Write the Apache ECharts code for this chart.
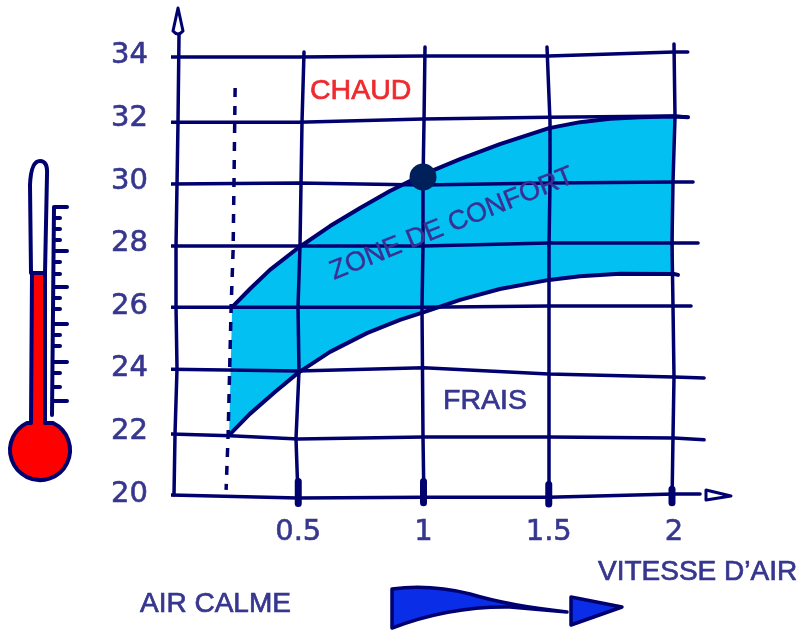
<!DOCTYPE html>
<html><head><meta charset="utf-8">
<style>html,body{margin:0;padding:0;background:#fff}#c{width:801px;height:631px}</style>
<script src="https://cdn.jsdelivr.net/npm/echarts@6/dist/echarts.min.js"></script>
</head><body><div id="c"></div>
<script>
// tick labels
const xTickValues = [0.5, 1, 1.5, 2];
const yTickValues = [20, 22, 24, 26, 28, 30, 32, 34];

// comfort zone boundaries [air speed, temperature]
const comfortUpper = [[0.236,25.97],[0.307,26.55],[0.387,27.16],[0.499,27.86],[0.627,28.56],[0.747,29.14],[0.866,29.68],[1.002,30.22],[1.146,30.7],[1.305,31.18],[1.501,31.69],[1.625,31.88],[1.745,31.99],[1.864,32.04],[2,32.06],[2.056,32.04]];
const comfortLower = [[0.224,21.88],[0.307,22.56],[0.407,23.26],[0.499,23.87],[0.627,24.54],[0.774,25.14],[0.906,25.56],[1.002,25.81],[1.146,26.2],[1.305,26.55],[1.501,26.84],[1.625,26.96],[1.784,27.04],[2,27.03],[2.016,27.0]];
const calmAirLimit = [[0.248,32.97],[0.244,30.3],[0.24,27.8],[0.232,25.97],[0.22,21.88],[0.212,20.13]];
const markedPoint = [[0.998,30.13]];

// hand-drawn grid lines, [air speed, temperature]
const row34 = [[-0.02,33.96],[0.5,33.96],[1,33.99],[1.5,33.99],[2,34.12],[2.055,34.12]];
const row32 = [[-0.02,31.88],[0.5,31.88],[1,31.98],[1.5,32.04],[2,32.08],[2.055,32.04]];
const row30 = [[-0.012,29.9],[0.5,29.94],[1,29.87],[1.5,29.94],[2,29.97],[2.076,29.97]];
const row28 = [[-0.024,27.92],[0.5,27.92],[1,27.92],[1.5,28.02],[2,28.02],[2.096,28.02]];
const row26 = [[-0.02,25.97],[0.5,25.97],[1,25.97],[1.5,26.01],[2,26.01],[2.068,26.01]];
const row24 = [[-0.02,23.99],[0.5,23.93],[1,24.03],[1.5,23.83],[2,23.74],[2.12,23.71]];
const row22 = [[-0.032,21.92],[0.228,21.86],[0.5,21.76],[1,21.82],[1.5,21.82],[2,21.79],[2.12,21.73]];
const row20 = [[-0.024,19.97],[0.5,19.87],[1,19.9],[1.5,19.9],[2,20],[2.104,20]];
const col00 = [[0.024,34.66],[0.02,31.9],[0.012,27.9],[0.012,26],[0.016,24],[0.008,21.9],[0.004,19.97]];
const col05 = [[0.523,34.12],[0.515,31.88],[0.507,27.92],[0.499,25.97],[0.503,23.93],[0.491,21.76],[0.5,19.7]];
const col10 = [[1.006,34.28],[1.002,31.9],[0.998,29.94],[0.998,27.92],[0.994,25.97],[0.998,21.82],[1.002,19.7]];
const col15 = [[1.493,34.28],[1.505,31.9],[1.505,29.94],[1.501,27.92],[1.501,25.97],[1.501,23.83],[1.501,21.82],[1.501,19.7]];
const col20 = [[2,34.38],[2.004,32.04],[1.996,29.97],[1.992,28.02],[1.996,26],[2,23.74],[1.996,21.82],[1.992,19.7]];
const tickBlobs = [[0.5,20.4,19.7],[1,20.4,19.72],[1.5,20.3,19.68],[1.992,20.15,19.72]];

// texts
const labelHot = 'CHAUD', labelCool = 'FRAIS', labelZone = 'ZONE DE CONFORT';
const labelSpeed = 'VITESSE D\u2019AIR', labelCalm = 'AIR CALME';

const INK = '#00006e', TXT = '#36368f', FONT = '"Liberation Sans"';
const rows = [row34,row32,row30,row28,row26,row24,row22,row20];
const cols = [col00,col05,col10,col15,col20];
const gridLine = (d, w) => ({type:'line', data:d, symbol:'none', silent:true, clip:false, smooth:false, z:3,
  lineStyle:{color:INK, width:w, cap:'round', join:'round'}});

const thermoMajor = [207,251,287,324,362,401];
const thermoMinor = [218,229,240,262,274,298,309,335,346,373,387];
const thermoTicks = 'M54 207 L52 415 ' + thermoMajor.map(y=>`M54 ${y} L67 ${y}`).join(' ') + ' ' + thermoMinor.map(y=>`M54 ${y} L60 ${y}`).join(' ');

const text = (t,x,y,size,fill) => ({type:'text', z:20, silent:true,
  style:{text:t, x, y, fill, stroke:fill, lineWidth:0.7, font:`${size}px ${FONT}`, textAlign:'left', textVerticalAlign:'middle'}});
const path = (d, fill, w) => ({type:'path', shape:{pathData:d},
  style:{fill, stroke:INK, lineWidth:w, lineCap:'round', lineJoin:'round'}});

const decorations = [
    path('M178 8 L183 31 Q178 37 173 31 Z','#fff',3),
    path('M706 490 L731 496 L706 500 Z','#fff',3),
    path('M392 589 Q430 584 470 594 Q510 606 567 612 L510 607 Q450 606 392 628 Z','#0a2ee8',3.5),
    path('M571 597 L622 607 L571 625 Z','#0a2ee8',3.5),
    path('M31 273 L30 185 Q31 161 40 161 Q48 161 47 175 L45 273 Z','#fff',4),
    path('M45 273 L45 423 L53 423 A30 30 0 1 1 27 423 L31 423 L32 273 Z','#ff0000',4),
    path(thermoTicks,'none',4)
];

const axisText = {color:TXT, fontSize:29, fontFamily:'"DejaVu Sans"', textBorderColor:TXT, textBorderWidth:0.6, formatter:v=>String(v)};

const chart = echarts.init(document.getElementById('c'), null, {renderer:'canvas'});
chart.setOption({
  animation:false,
  backgroundColor:'#fff',
  grid:{left:173, width:551.1, top:8.85, height:485.15, containLabel:false},
  xAxis:{type:'value', min:0, max:2.2, interval:0.5, splitLine:{show:false}, axisLine:{show:false}, axisTick:{show:false},
    axisLabel:Object.assign({customValues:xTickValues, margin:24}, axisText)},
  yAxis:{type:'value', min:20, max:35.5, interval:2, splitLine:{show:false}, axisLine:{show:false}, axisTick:{show:false},
    axisLabel:Object.assign({customValues:yTickValues, margin:25}, axisText)},
  series:[
    {type:'custom', silent:true, clip:false, z:1, coordinateSystem:'cartesian2d',
      data:[[0,0]],
      renderItem:(p,api)=>{
        const up = comfortUpper.filter(q=>q[0]<=2).map(q=>api.coord(q));
        const lo = comfortLower.filter(q=>q[0]<=2).map(q=>api.coord(q)).reverse();
        return {type:'polygon', shape:{points:up.concat(lo)}, style:{fill:'#02c0f2'}};
      }},
    ...rows.map(r=>gridLine(r,3.5)),
    ...cols.map(c=>gridLine(c,3.5)),
    ...tickBlobs.map(t=>gridLine([[t[0],t[1]],[t[0],t[2]]],7)),
    Object.assign(gridLine(comfortUpper,4),{z:4}),
    Object.assign(gridLine(comfortLower,4),{z:4}),
    {type:'line', data:calmAirLimit, symbol:'none', silent:true, clip:false, z:4,
      lineStyle:{color:INK, width:3.5, type:[9,9]}},
    {type:'scatter', data:markedPoint, symbol:'circle', symbolSize:27, silent:true, z:6, clip:false,
      itemStyle:{color:'#00205b', opacity:1}},
    {type:'custom', silent:true, z:15, coordinateSystem:'none', data:[[0]],
      renderItem:()=>({type:'group', children:decorations})}
  ],
  graphic:[
    text(labelHot,310,91,28.5,'#ee2a2e'),
    text(labelCool,443,401,28.5,TXT),
    text(labelSpeed,598,572,28,TXT),
    text(labelCalm,140,604,28,TXT),
    {type:'text', z:20, silent:true, x:452, y:224, rotation:22*Math.PI/180,
      style:{text:labelZone, x:0, y:0, fill:'#3b2f93', stroke:'#3b2f93', lineWidth:0.4, font:`27px ${FONT}`, textAlign:'center', textVerticalAlign:'middle'}}
  ]
});
</script></body></html>
